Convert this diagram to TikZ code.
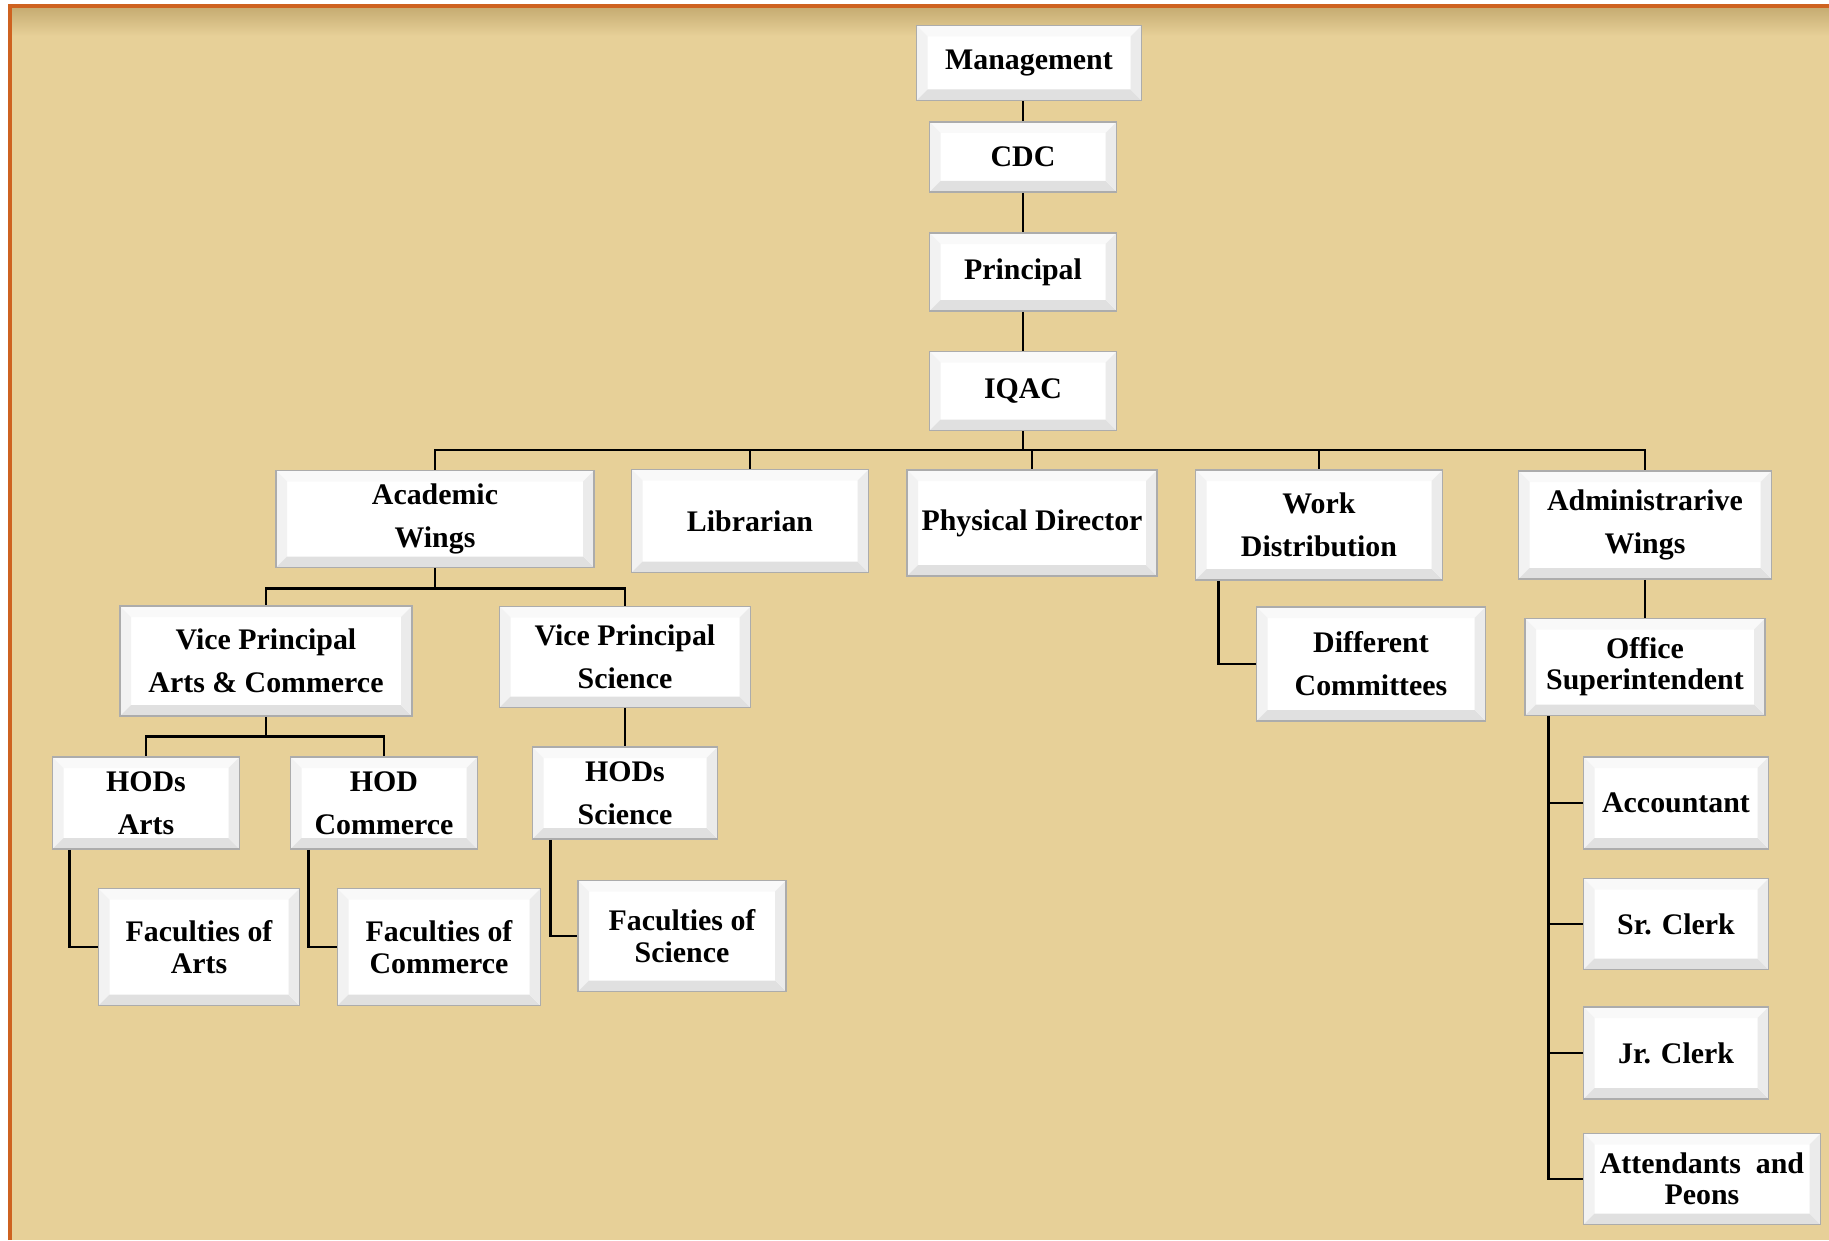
\documentclass[tikz,border=0pt]{standalone}
\usepackage{fontspec}
\setmainfont{Liberation Serif}
\usepackage{xcolor}
\usetikzlibrary{calc}
\definecolor{parch}{RGB}{231,208,152}
\definecolor{parchdark}{RGB}{196,170,112}
\definecolor{rim}{RGB}{206,98,32}

\tikzset{
    orgbox/.style={draw=gray!65, line width=0.5pt, fill=white, align=center, inner sep=1pt,
        font=\bfseries\fontsize{8.5}{12.3}\selectfont,
        path picture={
            \coordinate (pa) at (path picture bounding box.south west);
            \coordinate (pb) at (path picture bounding box.south east);
            \coordinate (pc) at (path picture bounding box.north east);
            \coordinate (pd) at (path picture bounding box.north west);
            \fill[gray!5] (pd) -- (pc) -- ++(-0.11,-0.11) -- ($(pd)+(0.11,-0.11)$) -- cycle;
            \fill[gray!10] (pd) -- (pa) -- ++(0.11,0.11) -- ($(pd)+(0.11,-0.11)$) -- cycle;
            \fill[gray!24] (pa) -- (pb) -- ++(-0.11,0.11) -- ($(pa)+(0.11,0.11)$) -- cycle;
            \fill[gray!16] (pb) -- (pc) -- ++(-0.11,-0.11) -- ($(pb)+(-0.11,0.11)$) -- cycle;
        }},
    tight/.style={font=\bfseries\fontsize{8.5}{8.9}\selectfont},
    link/.style={thick, black},
}

\begin{document}
\begin{tikzpicture}
        \useasboundingbox (0,0) rectangle (18.29,12.40);
        %LATAR
        \fill[parch] (0.10,0) rectangle (18.29,12.34);
        \shade[top color=parchdark, bottom color=parch] (0.10,12.04) rectangle (18.29,12.34);
        \draw[rim, line width=1.2pt] (0.10,0) -- (0.10,12.34) -- (18.29,12.34);
        %PUNCAK
        \node[orgbox, minimum width=2.25cm, minimum height=0.75cm] (mgmt) at (10.29,11.77) {Management};
        \node[orgbox, minimum width=1.87cm, minimum height=0.70cm] (cdc) at (10.23,10.83) {CDC};
        \node[orgbox, minimum width=1.87cm, minimum height=0.78cm] (prin) at (10.23,9.68) {Principal};
        \node[orgbox, minimum width=1.87cm, minimum height=0.79cm] (iqac) at (10.23,8.49) {IQAC};
        %BARIS KEDUA
        \node[orgbox, minimum width=3.18cm, minimum height=0.97cm] (acad) at (4.35,7.21) {Academic\\Wings};
        \node[orgbox, minimum width=2.37cm, minimum height=1.03cm] (lib) at (7.50,7.19) {Librarian};
        \node[orgbox, minimum width=2.50cm, minimum height=1.06cm] (phys) at (10.32,7.17) {Physical Director};
        \node[orgbox, minimum width=2.47cm, minimum height=1.10cm] (work) at (13.19,7.15) {Work\\Distribution};
        \node[orgbox, minimum width=2.53cm, minimum height=1.08cm] (admin) at (16.45,7.15) {Administrarive\\Wings};
        %AKADEMIK
        \node[orgbox, minimum width=2.92cm, minimum height=1.10cm] (vpac) at (2.66,5.79) {Vice Principal\\Arts \& Commerce};
        \node[orgbox, minimum width=2.51cm, minimum height=1.01cm] (vpsc) at (6.25,5.83) {Vice Principal\\Science};
        \node[orgbox, minimum width=1.87cm, minimum height=0.92cm] (hoda) at (1.46,4.37) {HODs\\Arts};
        \node[orgbox, minimum width=1.87cm, minimum height=0.92cm] (hodc) at (3.84,4.37) {HOD\\Commerce};
        \node[orgbox, minimum width=1.85cm, minimum height=0.92cm] (hods) at (6.25,4.47) {HODs\\Science};
        \node[orgbox, tight, minimum width=2.01cm, minimum height=1.17cm] (faca) at (1.99,2.93) {Faculties of\\Arts};
        \node[orgbox, tight, minimum width=2.03cm, minimum height=1.17cm] (facc) at (4.39,2.93) {Faculties of\\Commerce};
        \node[orgbox, tight, minimum width=2.08cm, minimum height=1.11cm] (facs) at (6.82,3.04) {Faculties of\\Science};
        %PEMBAGIAN KERJA
        \node[orgbox, minimum width=2.29cm, minimum height=1.14cm] (diff) at (13.71,5.76) {Different\\Committees};
        %ADMINISTRASI
        \node[orgbox, tight, minimum width=2.40cm, minimum height=0.97cm] (office) at (16.45,5.73) {Office\\Superintendent};
        \node[orgbox, minimum width=1.85cm, minimum height=0.92cm] (acc) at (16.76,4.37) {Accountant};
        \node[orgbox, minimum width=1.85cm, minimum height=0.91cm] (sr) at (16.76,3.16) {Sr. Clerk};
        \node[orgbox, minimum width=1.85cm, minimum height=0.92cm] (jr) at (16.76,1.87) {Jr. Clerk};
        \node[orgbox, tight, minimum width=2.37cm, minimum height=0.91cm] (att) at (17.02,0.61) {Attendants\ \ and\\Peons};
        %GARIS
        \draw[link] (cdc.north) -- (cdc.north |- mgmt.south);
        \draw[link] (cdc.south) -- (prin.north);
        \draw[link] (prin.south) -- (iqac.north);
        \coordinate (bus) at (10.23,7.90);
        \draw[link] (iqac.south) -- (bus);
        \foreach \n in {acad,lib,phys,work,admin}
            \draw[link] (bus) -| (\n.north);
        \draw[link] (acad.south) -- ++(0,-0.20) coordinate (bustwo);
        \foreach \n in {vpac,vpsc}
            \draw[link] (bustwo) -| (\n.north);
        \draw[link] (vpac.south) -- ++(0,-0.20) coordinate (busthree);
        \foreach \n in {hoda,hodc}
            \draw[link] (busthree) -| (\n.north);
        \draw[link] (vpsc.south) -- (hods.north);
        \draw[link] ([xshift=0.18cm]hoda.south west) |- (faca.west);
        \draw[link] ([xshift=0.19cm]hodc.south west) |- (facc.west);
        \draw[link] ([xshift=0.19cm]hods.south west) |- (facs.west);
        \draw[link] ([xshift=0.24cm]work.south west) |- (diff.west);
        \draw[link] (admin.south) -- (office.north);
        \foreach \n in {acc,sr,jr,att}
            \draw[link] ([xshift=0.24cm]office.south west) |- (\n.west);
\end{tikzpicture}
\end{document}
